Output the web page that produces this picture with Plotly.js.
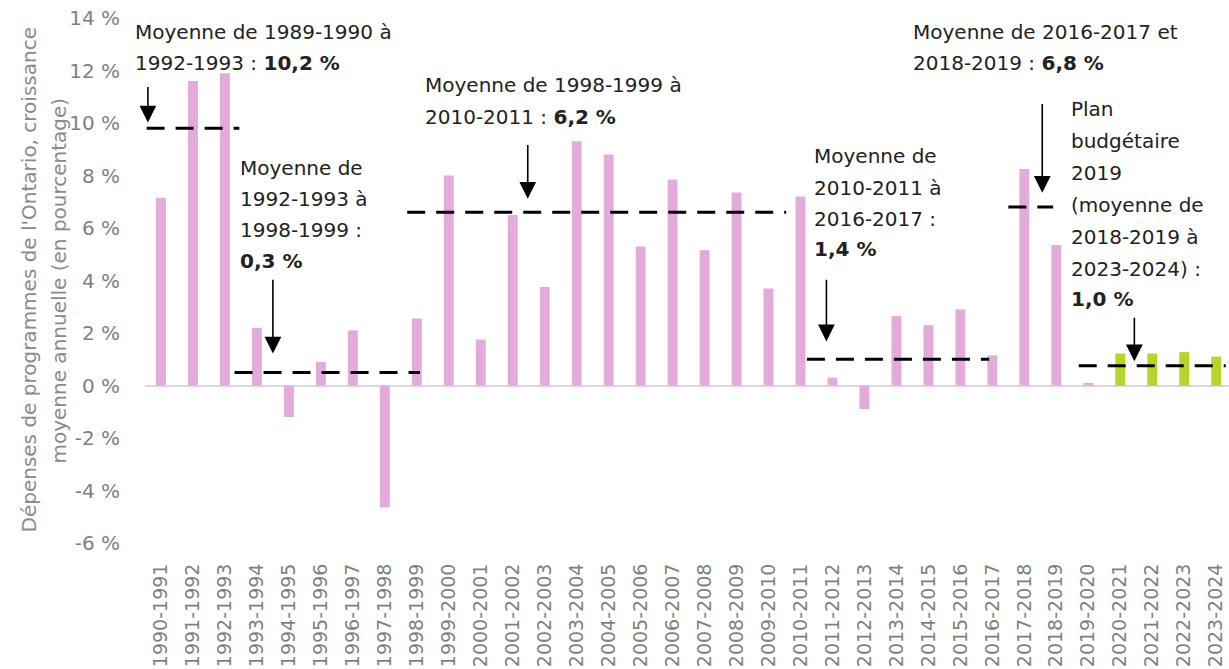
<!DOCTYPE html>
<html>
<head>
<meta charset="utf-8">
<script src="https://cdn.plot.ly/plotly-3.0.1.min.js"></script>
<style>html,body{margin:0;padding:0;background:#fff;}#chart{width:1229px;height:669px;}</style>
</head>
<body>
<div id="chart"></div>
<script>
// ---- Data ----
const years = ["1990-1991","1991-1992","1992-1993","1993-1994","1994-1995","1995-1996","1996-1997","1997-1998","1998-1999","1999-2000","2000-2001","2001-2002","2002-2003","2003-2004","2004-2005","2005-2006","2006-2007","2007-2008","2008-2009","2009-2010","2010-2011","2011-2012","2012-2013","2013-2014","2014-2015","2015-2016","2016-2017","2017-2018","2018-2019","2019-2020","2020-2021","2021-2022","2022-2023","2023-2024"];
const growth = [7.15,11.6,11.9,2.2,-1.2,0.9,2.1,-4.65,2.55,8.0,1.75,6.5,3.75,9.3,8.8,5.3,7.85,5.15,7.35,3.7,7.2,0.3,-0.9,2.65,2.3,2.9,1.15,8.25,5.35,0.1,1.22,1.22,1.27,1.1];
const isPlan = [0,0,0,0,0,0,0,0,0,0,0,0,0,0,0,0,0,0,0,0,0,0,0,0,0,0,0,0,0,0,1,1,1,1];
// average periods (dashed lines): level, start index, end index
const avgLevel = [9.8, 0.5, 6.6, 1.0, 6.8, 0.75];
const avgFrom  = [-0.45, 2.3, 7.7, 20.2, 26.5, 28.7];
const avgTo    = [2.45, 8.1, 19.55, 25.9, 27.9, 33.3];
const yTickVals = [-6,-4,-2,0,2,4,6,8,10,12,14];
const yTickText = ["-6 %","-4 %","-2 %","0 %","2 %","4 %","6 %","8 %","10 %","12 %","14 %"];

const PINK = "#e2abda", GREEN = "#b2d62a";
const idx = years.map((_, i) => i);
const histX = idx.filter(i => !isPlan[i]), planX = idx.filter(i => isPlan[i]);

const traces = [
  {type:"bar", x: histX, y: histX.map(i => growth[i]), width: 0.31, marker:{color:PINK}, hoverinfo:"x+y", showlegend:false},
  {type:"bar", x: planX, y: planX.map(i => growth[i]), width: 0.31, marker:{color:GREEN}, hoverinfo:"x+y", showlegend:false}
];
avgLevel.forEach((lv, k) => {
  traces.push({type:"scatter", mode:"lines", x:[avgFrom[k], avgTo[k]], y:[lv, lv],
    line:{color:"#000", width:3, dash:"18px,11px"}, hoverinfo:"skip", showlegend:false, cliponaxis:false});
});

const FONT = "DejaVu Sans, sans-serif";
const ann = [];
function textLines(x, ys, lines, xshift) {
  lines.forEach((t, i) => ann.push({xref: xshift !== undefined ? "paper" : "x", yref:"y", x:x, y:ys[i], xshift: xshift || 0,
    text:t, showarrow:false, xanchor:"left", yanchor:"middle", font:{family:FONT, size:20, color:"#222222"}, borderpad:0}));
}
textLines(0, [13.46,12.28], ["Moyenne de 1989-1990 à","1992-1993 : <b>10,2 %</b>"], -11);
textLines(2.43, [8.30,7.11,5.93,4.74], ["Moyenne de","1992-1993 à","1998-1999 :","<b>0,3 %</b>"]);
textLines(8.24, [11.43,10.21], ["Moyenne de 1998-1999 à","2010-2011 : <b>6,2 %</b>"]);
textLines(20.40, [8.76,7.53,6.35,5.20], ["Moyenne de","2010-2011 à","2016-2017 :","<b>1,4 %</b>"]);
textLines(23.49, [13.46,12.28], ["Moyenne de 2016-2017 et","2018-2019 : <b>6,8 %</b>"]);
textLines(28.43, [10.55,9.33,8.11,6.88,5.66,4.44,3.29], ["Plan","budgétaire","2019","(moyenne de","2018-2019 à","2023-2024) :","<b>1,0 %</b>"]);

function arrow(x, yTail, yTip) {
  ann.push({xref:"x", yref:"y", axref:"x", ayref:"y", x:x, y:yTip, ax:x, ay:yTail, text:"",
    showarrow:true, arrowhead:2, arrowsize:2.1, arrowwidth:1.6, arrowcolor:"#000", standoff:0});
}
arrow(-0.41, 11.43, 10.02);
arrow(3.5, 4.09, 1.22);
arrow(11.47, 9.22, 7.11);
arrow(20.81, 4.09, 1.68);
arrow(27.56, 10.78, 7.34);
arrow(30.44, 2.64, 0.92);

// y-axis title as rotated annotation lines
ann.push({xref:"paper", yref:"paper", x:0, y:0.5, xshift:-117, xanchor:"center", yanchor:"middle",
  text:"Dépenses de programmes de l'Ontario, croissance",
  textangle:-90, showarrow:false, font:{family:FONT, size:20, color:"#8a8a8a"}});
ann.push({xref:"paper", yref:"paper", x:0, y:0.5, xshift:-87, xanchor:"center", yanchor:"middle",
  text:"moyenne annuelle (en pourcentage)",
  textangle:-90, showarrow:false, font:{family:FONT, size:20, color:"#8a8a8a"}});

const layout = {
  width:1229, height:669,
  margin:{l:145, r:0, t:18, b:126},
  paper_bgcolor:"#fff", plot_bgcolor:"#fff",
  barmode:"overlay",
  font:{family:FONT},
  xaxis:{range:[-0.5,33.4], tickvals:idx, ticktext:years, tickangle:-90, showgrid:false, zeroline:false,
    showline:false, ticks:"outside", ticklen:12, tickcolor:"rgba(0,0,0,0)",
    tickfont:{family:FONT, size:19, color:"#7f7f7f"}, fixedrange:true},
  yaxis:{range:[-6,14], tickvals:yTickVals, ticktext:yTickText, showgrid:false,
    zeroline:true, zerolinecolor:"#d9d9d9", zerolinewidth:2, showline:false,
    ticks:"outside", ticklen:20, tickcolor:"rgba(0,0,0,0)",
    tickfont:{family:FONT, size:20, color:"#7f7f7f"}, fixedrange:true},
  annotations: ann,
  showlegend:false
};
Plotly.newPlot("chart", traces, layout, {displayModeBar:false, staticPlot:true});
</script>
</body>
</html>
